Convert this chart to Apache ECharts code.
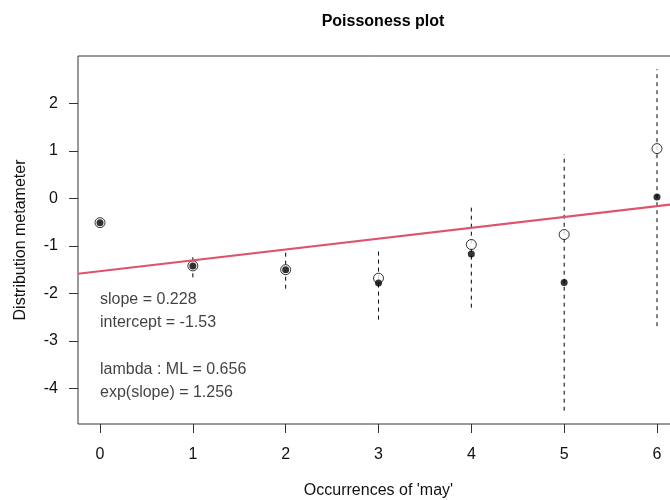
<!DOCTYPE html>
<html>
<head>
<meta charset="utf-8">
<script src="https://cdn.jsdelivr.net/npm/echarts@6/dist/echarts.min.js"></script>
<style>
  html, body { margin: 0; padding: 0; background: #fff; }
  #chart { width: 670px; height: 500px; }
</style>
</head>
<body>
<div id="chart"></div>
<script>
// Poissoness plot for occurrences of 'may'
const counts = [0, 1, 2, 3, 4, 5, 6];
const metameter = [-0.51, -1.42, -1.50, -1.68, -0.97, -0.76, 1.05];
const centered = [-0.51, -1.42, -1.50, -1.78, -1.17, -1.77, 0.03];
const ciLow = [-0.56, -1.66, -1.90, -2.55, -2.30, -4.47, -2.69];
const ciHigh = [-0.45, -1.22, -1.13, -1.07, -0.14, 0.93, 2.72];
const yTicks = [-4, -3, -2, -1, 0, 1, 2];
const fitSlope = 0.228;
const fitIntercept = -1.53;
const notes = ['slope = 0.228', 'intercept = -1.53', '', 'lambda : ML = 0.656', 'exp(slope) = 1.256'];

const FONT = '"Liberation Sans", Arial, sans-serif';
const xMin = -0.237, xMax = 6.237;
const yMin = -4.75, yMax = 3.0;

const chart = echarts.init(document.getElementById('chart'));

const fitLine = [xMin, xMax].map((x) => [x, fitIntercept + fitSlope * x]);

chart.setOption({
  animation: false,
  title: {
    text: 'Poissoness plot',
    left: 378,
    top: 9,
    textAlign: 'center',
    textStyle: { fontFamily: FONT, fontSize: 16, fontWeight: 'bold', color: '#000' },
  },
  grid: {
    left: 78, top: 56, right: -9, bottom: 76,
    show: true, borderColor: '#333', borderWidth: 1,
    outerBoundsMode: 'none',
  },
  xAxis: {
    type: 'value',
    min: xMin, max: xMax,
    name: "Occurrences of 'may'",
    nameLocation: 'middle',
    nameGap: 59,
    nameTextStyle: { fontFamily: FONT, fontSize: 16, color: '#111' },
    axisLine: { show: false, onZero: false },
    splitLine: { show: false },
    axisTick: { show: true, length: 9, customValues: counts, lineStyle: { color: '#333' } },
    axisLabel: { customValues: counts, margin: 23, fontFamily: FONT, fontSize: 16, color: '#111' },
  },
  yAxis: {
    type: 'value',
    min: yMin, max: yMax,
    name: 'Distribution metameter',
    nameLocation: 'middle',
    nameGap: 49,
    nameTextStyle: { fontFamily: FONT, fontSize: 16, color: '#111' },
    axisLine: { show: false, onZero: false },
    splitLine: { show: false },
    axisTick: { show: true, length: 9, customValues: yTicks, lineStyle: { color: '#333' } },
    axisLabel: { customValues: yTicks, margin: 20, fontFamily: FONT, fontSize: 16, color: '#111' },
  },
  series: [
    {
      type: 'custom',
      z: 2,
      silent: true,
      encode: { x: 0, y: [1, 2] },
      data: counts.map((c, i) => [c, ciLow[i], ciHigh[i]]),
      renderItem(params, api) {
        const x = api.value(0);
        const p1 = api.coord([x, api.value(1)]);
        const p2 = api.coord([x, api.value(2)]);
        return {
          type: 'line',
          shape: { x1: p1[0], y1: p1[1], x2: p2[0], y2: p2[1] },
          style: { stroke: '#000', lineWidth: 1, lineDash: [4, 4] },
        };
      },
    },
    {
      type: 'scatter',
      z: 3,
      symbol: 'circle',
      symbolSize: 10,
      itemStyle: { color: '#fff', borderColor: '#000', borderWidth: 1 },
      data: counts.map((c, i) => [c, metameter[i]]),
    },
    {
      type: 'scatter',
      z: 4,
      symbol: 'circle',
      symbolSize: 7,
      itemStyle: { color: '#000' },
      data: counts.map((c, i) => [c, centered[i]]),
    },
    {
      type: 'line',
      z: 5,
      symbol: 'none',
      silent: true,
      lineStyle: { color: '#DF536B', width: 2 },
      data: fitLine,
    },
    {
      type: 'scatter',
      z: 6,
      symbolSize: 0,
      silent: true,
      data: [[0, -3.11]],
      label: {
        show: true,
        position: [0, 0],
        align: 'left',
        verticalAlign: 'middle',
        formatter: () => notes.join('\n'),
        fontFamily: FONT,
        fontSize: 16,
        lineHeight: 23.4,
        color: '#111',
      },
    },
  ],
});
</script>
</body>
</html>
